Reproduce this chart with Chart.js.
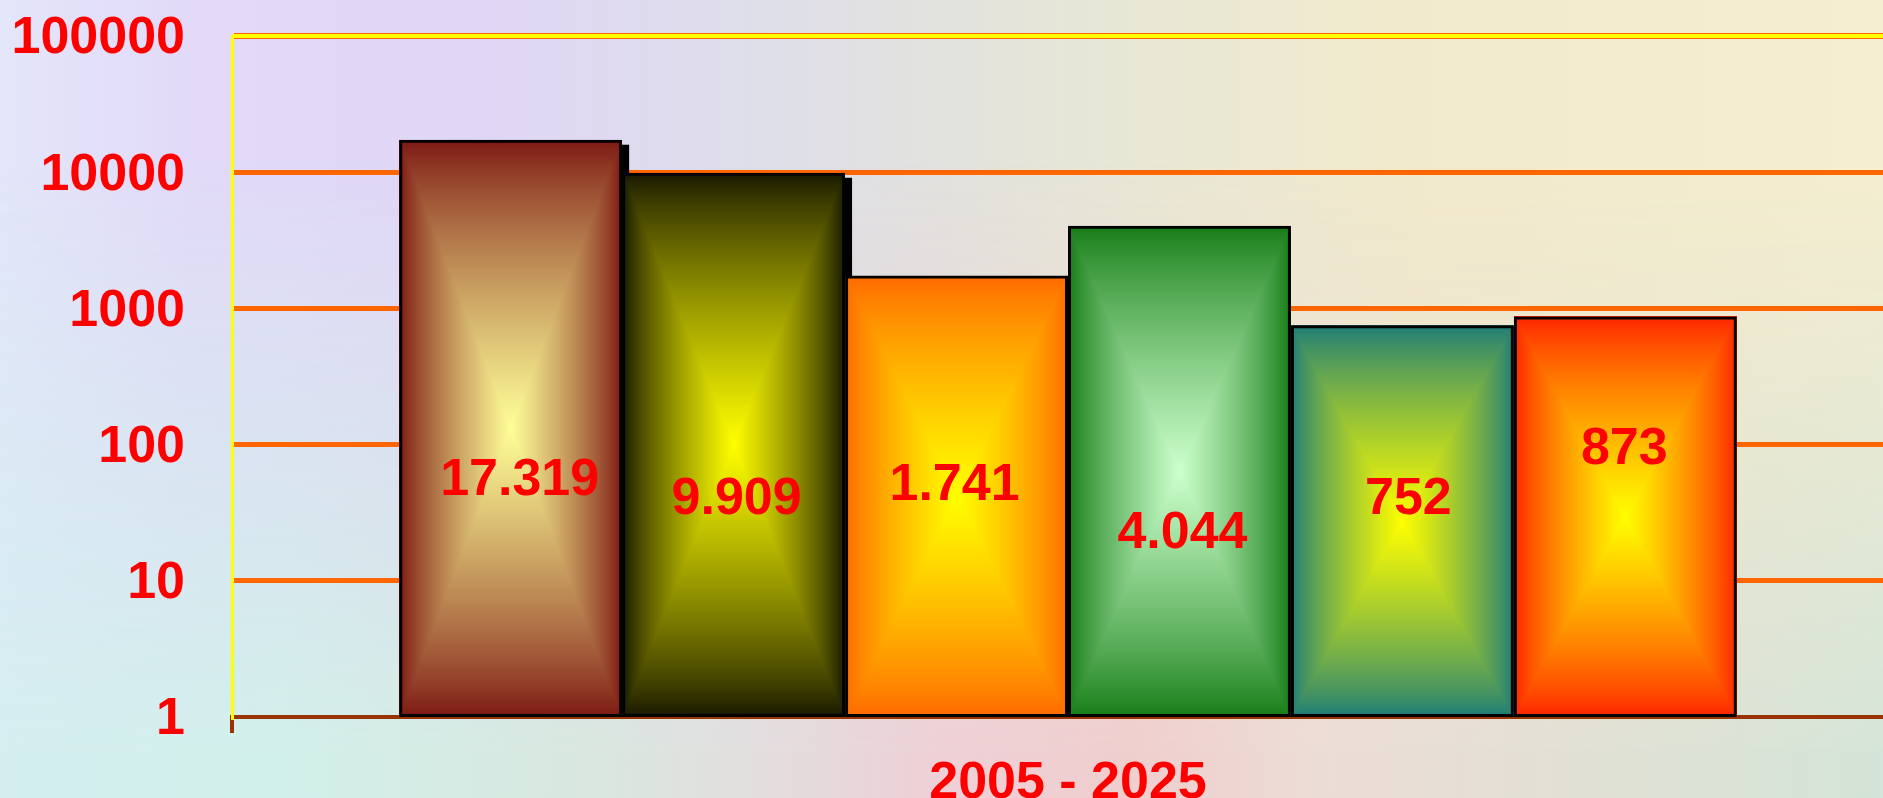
<!DOCTYPE html>
<html>
<head>
<meta charset="utf-8">
<script src="https://cdn.jsdelivr.net/npm/chart.js@4.4.1/dist/chart.umd.min.js"></script>
<style>
    html, body { margin: 0; padding: 0; width: 1883px; height: 798px; overflow: hidden; }
    .bg-top, .bg-bottom { position: absolute; left: 0; top: 0; width: 1883px; height: 798px; }
    .bg-top {
        background: linear-gradient(to right, #E4E6FA 0%, #E2DAF8 10%, #E0D6F6 25%, #DEDEEA 40%, #E2E2DE 50%, #E8E8D6 60%, #F2EACC 75%, #F6EED0 100%);
    }
    .bg-bottom {
        background: linear-gradient(to right, #D4EEF0 0%, #D2F0EA 15%, #D8E8E0 30%, #E2DEDE 40%, #EED0D6 50%, #F0CECE 60%, #ECDCD6 70%, #E0E0D4 85%, #D4E4D8 100%);
        -webkit-mask-image: linear-gradient(to bottom, transparent 20%, #000 95%);
        mask-image: linear-gradient(to bottom, transparent 20%, #000 95%);
    }
    .chart-wrap { position: absolute; left: 0; top: 0; width: 1904px; height: 798px; }
</style>
</head>
<body>
<div class="bg-top"></div>
<div class="bg-bottom"></div>
<div class="chart-wrap"><canvas id="logChart"></canvas></div>

<script>
/* --- Data --- */
const categories = ['2005 - 2025'];
const seriesValues = [17319, 9909, 1741, 4044, 752, 873];
const yTicks = [1, 10, 100, 1000, 10000, 100000];

// rectangular gradient colours per bar: [edge, centre]
const edgeColors = ['#7A1410', '#141400', '#FF6600', '#127A12', '#1A7A7A', '#FF2000'];
const centerColors = ['#FFFF99', '#FFFF00', '#FFFF00', '#CCFFCC', '#FFFF00', '#FFFF00'];

// hand-placed value labels (px from bar centre)
const labelNudgeX = [9, 3, -2, 3, 6, -1];
const labelNudgeY = [52, 55, -11, 62, -21, -67];
const shadowBars = [0, 1];

const RED = '#FF0000';
const ORANGE = '#FF6600';
const FONT = "'Liberation Sans', Arial, sans-serif";
const GAMMA = 0.8;

const fmt = v => String(v).replace(/\B(?=(\d{3})+(?!\d))/g, '.');
const rgb = hex => [1, 3, 5].map(i => parseInt(hex.slice(i, i + 2), 16));

/* --- Bar fill: rectangle gradient, edges -> centre --- */
function paintBar(ctx, l, t, r, b, edge, center) {
    const w = Math.max(1, Math.round(r - l)), h = Math.max(1, Math.round(b - t));
    const off = document.createElement('canvas');
    off.width = w;
    off.height = h;
    const octx = off.getContext('2d');
    const img = octx.createImageData(w, h);
    const e = rgb(edge), c = rgb(center);
    const hw = w / 2, hh = h / 2;
    for (let j = 0; j < h; j++) {
        const ty = Math.min(j + 0.5, h - j - 0.5) / hh;
        for (let i = 0; i < w; i++) {
            const tx = Math.min(i + 0.5, w - i - 0.5) / hw;
            const k = Math.pow(Math.min(tx, ty), GAMMA);
            const p = (j * w + i) * 4;
            img.data[p] = e[0] + (c[0] - e[0]) * k;
            img.data[p + 1] = e[1] + (c[1] - e[1]) * k;
            img.data[p + 2] = e[2] + (c[2] - e[2]) * k;
            img.data[p + 3] = 255;
        }
    }
    octx.putImageData(img, 0, 0);
    ctx.drawImage(off, l, t, r - l, b - t);
}

const barFillPlugin = {
    id: 'barFill',
    beforeDatasetsDraw(chart) {
        const { ctx, chartArea, scales: { y } } = chart;
        ctx.save();
        // yellow core of the top gridline
        const yTop = y.getPixelForValue(yTicks[yTicks.length - 1]);
        ctx.strokeStyle = '#FFFF00';
        ctx.lineWidth = 4;
        ctx.beginPath();
        ctx.moveTo(chartArea.left, yTop);
        ctx.lineTo(chartArea.right, yTop);
        ctx.stroke();

        chart.data.datasets.forEach((ds, i) => {
            const el = chart.getDatasetMeta(i).data[0];
            const { x, y: top, base, width } = el.getProps(['x', 'y', 'base', 'width'], true);
            const l = x - width / 2, r = x + width / 2;
            if (shadowBars.includes(i)) {
                ctx.fillStyle = '#000';
                ctx.fillRect(l + 7, top + 5, width, base - top - 5);
            }
            paintBar(ctx, l, top, r, base, edgeColors[i], centerColors[i]);
        });
        ctx.restore();
    }
};

const valueLabelPlugin = {
    id: 'valueLabels',
    afterDatasetsDraw(chart) {
        const { ctx } = chart;
        ctx.save();
        ctx.font = `bold 52px ${FONT}`;
        ctx.fillStyle = RED;
        ctx.textAlign = 'center';
        ctx.textBaseline = 'middle';
        chart.data.datasets.forEach((ds, i) => {
            const el = chart.getDatasetMeta(i).data[0];
            const { x, y, base } = el.getProps(['x', 'y', 'base'], true);
            ctx.fillText(fmt(ds.data[0]), x + labelNudgeX[i], (y + base) / 2 + labelNudgeY[i]);
        });
        ctx.restore();
    }
};

/* --- Chart.js Setup --- */
const ctx = document.getElementById('logChart').getContext('2d');

new Chart(ctx, {
    type: 'bar',
    data: {
        labels: categories,
        datasets: seriesValues.map((v, i) => ({
            label: 'S' + (i + 1),
            data: [v],
            backgroundColor: 'rgba(0,0,0,0)',
            borderColor: '#000000',
            borderWidth: 3,
            borderSkipped: false,
            categoryPercentage: 0.8,
            barPercentage: 1.0
        }))
    },
    options: {
        responsive: true,
        maintainAspectRatio: false,
        animation: false,
        layout: { padding: { top: 36, left: 0, right: 0, bottom: 0 } },
        plugins: {
            legend: { display: false },
            tooltip: { enabled: false }
        },
        scales: {
            x: {
                grid: {
                    offset: true,
                    drawOnChartArea: false,
                    tickLength: 16,
                    color: '#993300',
                    lineWidth: 4
                },
                border: { color: '#993300', width: 4 },
                ticks: {
                    color: RED,
                    padding: 19,
                    font: { family: FONT, size: 52, weight: 'bold' }
                },
                afterFit(scale) { scale.height = 81; }
            },
            y: {
                type: 'logarithmic',
                min: 1,
                max: 100000,
                afterBuildTicks(scale) {
                    scale.ticks = yTicks.map(v => ({ value: v }));
                },
                afterFit(scale) { scale.width = 232; },
                grid: {
                    drawTicks: true,
                    tickLength: 47,
                    tickColor: 'rgba(0,0,0,0)',
                    color: c => (c.tick && c.tick.value === 1) ? 'rgba(0,0,0,0)' : ORANGE,
                    lineWidth: c => (c.tick && c.tick.value === 100000) ? 6 : 5
                },
                border: { color: '#FFFF00', width: 3 },
                ticks: {
                    color: RED,
                    padding: 0,
                    labelOffset: 3,
                    font: { family: FONT, size: 52, weight: 'bold' },
                    callback: v => String(v)
                }
            }
        }
    },
    plugins: [barFillPlugin, valueLabelPlugin]
});
</script>
</body>
</html>
